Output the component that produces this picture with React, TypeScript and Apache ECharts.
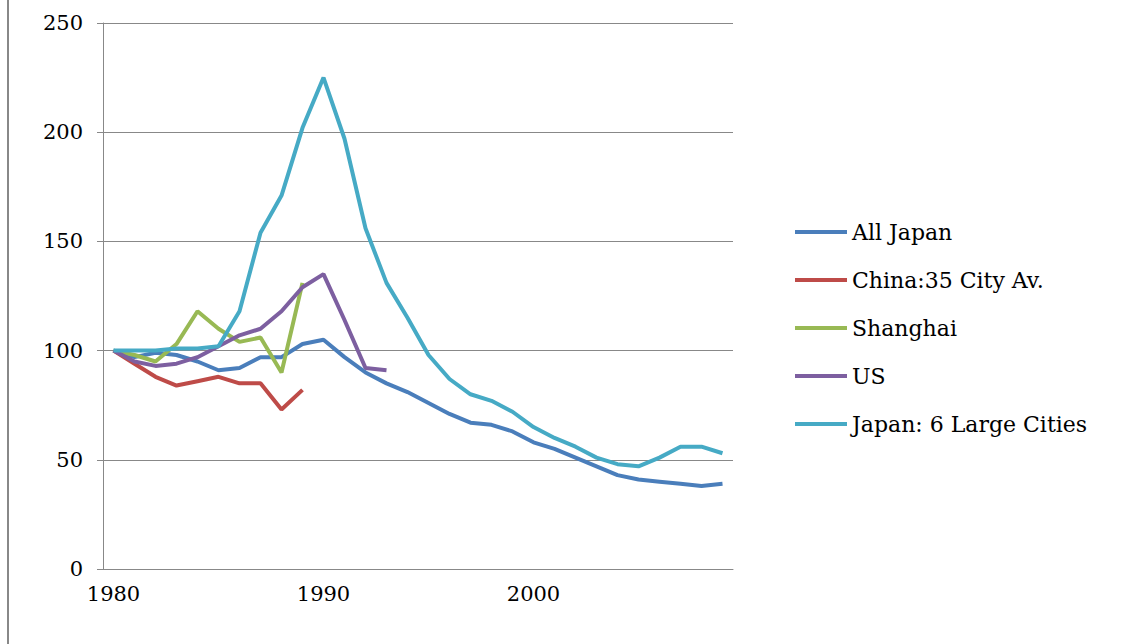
import React, { useEffect, useRef } from 'react';
import * as echarts from 'echarts';

const years = Array.from({ length: 30 }, (_, i) => String(1980 + i));
const allJapan = [100, 97, 99, 98, 95, 91, 92, 97, 97, 103, 105, 97, 90, 85, 81, 76, 71, 67, 66, 63, 58, 55, 51, 47, 43, 41, 40, 39, 38, 39];
const china = [100, 94, 88, 84, 86, 88, 85, 85, 73, 82];
const shanghai = [100, 98, 95, 103, 118, 110, 104, 106, 90, 131];
const us = [100, 95, 93, 94, 97, 102, 107, 110, 118, 129, 135, 114, 92, 91];
const japan6 = [100, 100, 100, 101, 101, 102, 118, 154, 171, 202, 225, 197, 156, 131, 115, 98, 87, 80, 77, 72, 65, 60, 56, 51, 48, 47, 51, 56, 56, 53];

const names = ['All Japan', 'China:35 City Av.', 'Shanghai', 'US', 'Japan: 6 Large Cities'];
const colors = ['#4a7ebb', '#be4b48', '#98b954', '#7d5fa0', '#46aac5'];
const values = [allJapan, china, shanghai, us, japan6];
const font = 'DejaVu Serif';

export default function App() {
  const ref = useRef<HTMLDivElement>(null);
  useEffect(() => {
    if (!ref.current) return;
    const chart = echarts.init(ref.current, null, { renderer: 'svg' });
    chart.setOption({
      animation: false,
      textStyle: { fontFamily: font },
      grid: { left: 103, top: 23, right: 398, bottom: 75 },
      legend: {
        orient: 'vertical', left: 790, top: 216, itemGap: 26,
        itemWidth: 52, itemHeight: 4, icon: 'rect',
        textStyle: { fontSize: 22, color: '#000', fontFamily: font },
        data: names,
      },
      xAxis: {
        type: 'category', data: years, boundaryGap: true,
        axisLine: { lineStyle: { color: '#888' } },
        axisTick: { interval: 0, lineStyle: { color: '#888' }, length: 6 },
        axisLabel: {
          interval: (i: number) => i % 10 === 0, color: '#000', fontSize: 21, margin: 14,
          fontFamily: font,
        },
      },
      yAxis: {
        type: 'value', min: 0, max: 250, interval: 50,
        axisLine: { show: true, lineStyle: { color: '#888' } },
        axisTick: { show: true, length: 6, lineStyle: { color: '#888' } },
        splitLine: { lineStyle: { color: '#888' } },
        axisLabel: { color: '#000', fontSize: 21, margin: 20, fontFamily: font },
      },
      graphic: [{ type: 'line', shape: { x1: 8, y1: 0, x2: 8, y2: 644 }, style: { stroke: '#888', lineWidth: 2 } }],
      series: names.map((n, i) => ({
        name: n, type: 'line', data: values[i], symbol: 'none',
        lineStyle: { width: 4, color: colors[i] }, itemStyle: { color: colors[i] },
      })),
    });
    return () => chart.dispose();
  }, []);
  return <div ref={ref} style={{ position: 'absolute', left: 0, top: 0, width: 1131, height: 644 }} />;
}
